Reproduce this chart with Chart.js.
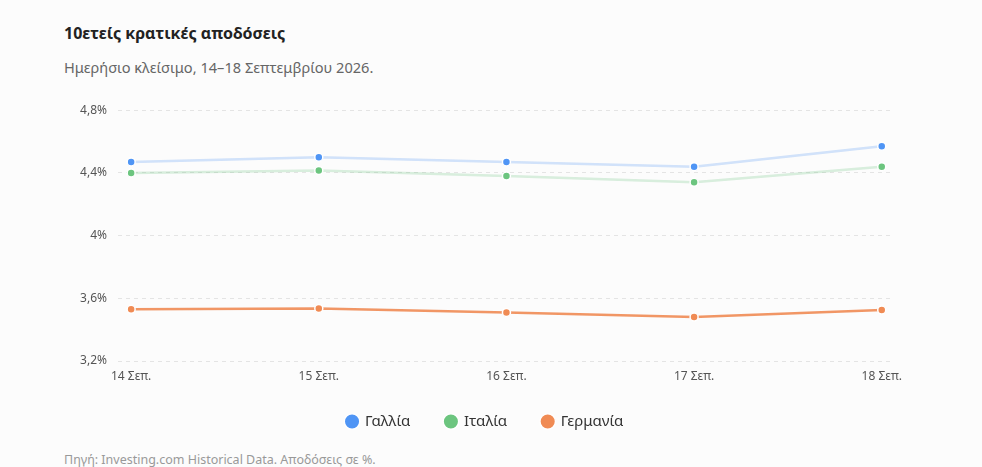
<!DOCTYPE html>
<html lang="el">
  <head>
    <meta charset="UTF-8" />
    <title>10ετείς κρατικές αποδόσεις</title>
    <script src="https://cdn.jsdelivr.net/npm/chart.js"></script>
    <style>
      body {
        margin: 0;
        background: #fcfcfc;
        font-family: "Noto Sans", sans-serif;
        overflow: hidden;
      }
      .title {
        position: absolute;
        left: 64px;
        top: 22px;
        font-size: 16px;
        font-weight: bold;
        color: #222;
      }
      .subtitle {
        position: absolute;
        left: 64px;
        top: 57px;
        font-size: 14.6px;
        color: #666;
      }
      .footer {
        position: absolute;
        left: 64px;
        top: 451px;
        font-size: 12.5px;
        color: #999;
      }
      .chart-container {
        position: absolute;
        left: 0;
        top: 92px;
        width: 982px;
        height: 347px;
      }
    </style>
  </head>
  <body>
    <div class="title">10ετείς κρατικές αποδόσεις</div>
    <div class="subtitle">Ημερήσιο κλείσιμο, 14–18 Σεπτεμβρίου 2026.</div>
    <div class="chart-container"><canvas id="yieldChart"></canvas></div>
    <div class="footer">Πηγή: Investing.com Historical Data. Αποδόσεις σε %.</div>

    <script>
      const dates = ["14 Σεπ.", "15 Σεπ.", "16 Σεπ.", "17 Σεπ.", "18 Σεπ."];
      const france = [4.47, 4.5, 4.47, 4.44, 4.57];
      const italy = [4.4, 4.415, 4.38, 4.34, 4.44];
      const germany = [3.53, 3.535, 3.51, 3.48, 3.525];
      const yTicks = [3.2, 3.6, 4.0, 4.4, 4.8];

      function points(values) {
        return values.map((v, i) => ({ x: i, y: v }));
      }

      function series(label, values, point, line) {
        return {
          label: label,
          data: points(values),
          borderColor: line,
          backgroundColor: point,
          pointBackgroundColor: point,
          pointBorderColor: "#ffffff",
          pointBorderWidth: 1.5,
          pointRadius: 4,
          borderWidth: 2.5,
          tension: 0,
        };
      }

      var ctx = document.getElementById("yieldChart").getContext("2d");
      var chart = new Chart(ctx, {
        type: "line",
        data: {
          datasets: [
            series("Γαλλία", france, "#4f95f5", "rgba(79,149,245,0.25)"),
            series("Ιταλία", italy, "#6cc57f", "rgba(108,197,127,0.25)"),
            series("Γερμανία", germany, "#f08b54", "rgba(240,139,84,0.9)"),
          ],
        },
        options: {
          responsive: true,
          maintainAspectRatio: false,
          animation: false,
          layout: { padding: { top: 0, right: 89, bottom: 0, left: 77 } },
          scales: {
            x: {
              type: "linear",
              min: -0.07,
              max: 4.06,
              grid: { display: false, drawTicks: false },
              border: { display: false },
              afterBuildTicks: (scale) => {
                scale.ticks = dates.map((_, i) => ({ value: i }));
              },
              afterFit: (scale) => {
                scale.height = 48;
              },
              ticks: {
                autoSkip: false,
                maxRotation: 0,
                padding: 8,
                color: "#555",
                font: { family: "Noto Sans", size: 12 },
                callback: (v) => dates[v],
              },
            },
            y: {
              min: yTicks[0],
              max: yTicks[yTicks.length - 1],
              border: { display: false, dash: [4, 4] },
              grid: {
                color: "#e4e4e4",
                drawTicks: false,
                lineWidth: 1,
              },
              afterBuildTicks: (scale) => {
                scale.ticks = yTicks.map((v) => ({ value: v }));
              },
              afterFit: (scale) => {
                scale.width = 41;
              },
              ticks: {
                padding: 11,
                color: "#555",
                font: { family: "Noto Sans", size: 12 },
                callback: (v) =>
                  (+v.toFixed(1)).toString().replace(".", ",") + "%",
              },
            },
          },
          plugins: {
            legend: {
              position: "bottom",
              labels: {
                usePointStyle: true,
                pointStyle: "circle",
                boxWidth: 11,
                boxHeight: 11,
                padding: 5,
                color: "#333",
                font: { family: "Noto Sans", size: 15 },
                // wider gaps between items without a tall legend box
                generateLabels: (c) => {
                  const items =
                    Chart.defaults.plugins.legend.labels.generateLabels(c);
                  return items.map((item, i) => {
                    if (i < items.length - 1) item.text += "\u2003\u2003";
                    return item;
                  });
                },
              },
            },
            tooltip: { enabled: false },
          },
        },
      });
    </script>
  </body>
</html>
